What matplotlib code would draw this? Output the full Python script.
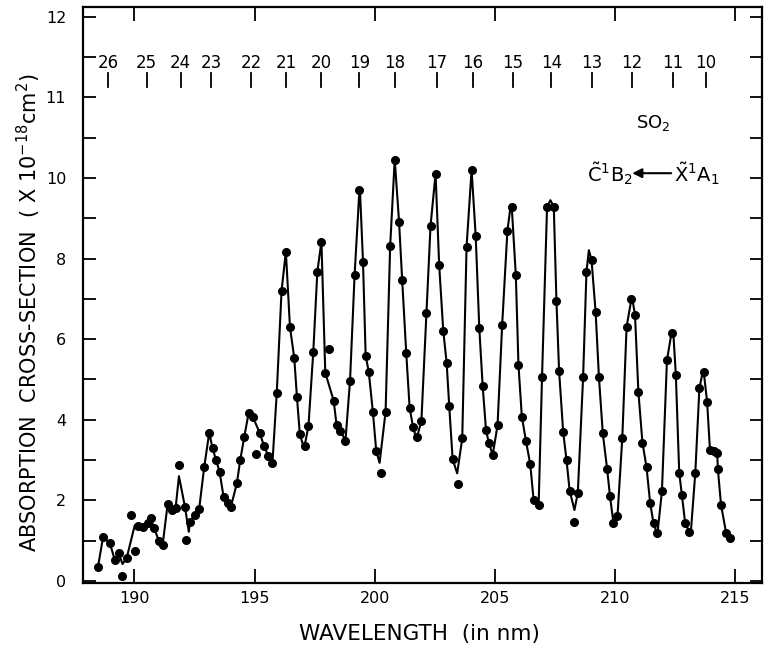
import numpy as np
import matplotlib
matplotlib.use("Agg")
import matplotlib.pyplot as plt

# measured points that lie on the drawn curve (wavelength nm, cross-section 1e-18 cm^2)
dot_wl = [188.48, 188.69, 188.97, 189.18, 189.34, 189.67, 190.15, 190.36, 190.57, 190.67,
          190.82, 191.02, 191.17, 191.38, 191.58, 191.71, 192.10, 192.31, 192.50, 192.69,
          192.90, 193.11, 193.25, 193.40, 193.54, 193.71, 193.88, 194.01, 194.26, 194.40,
          194.57, 194.75, 194.93, 195.21, 195.39, 195.57, 195.74, 195.92, 196.12, 196.30,
          196.47, 196.65, 196.76, 196.88, 197.08, 197.24, 197.44, 197.61, 197.78, 197.94,
          198.29, 198.41, 198.57, 198.78, 198.97, 199.16, 199.36, 199.51, 199.62, 199.75,
          199.92, 200.06, 200.45, 200.64, 200.83, 201.01, 201.14, 201.31, 201.45, 201.59,
          201.76, 201.94, 202.15, 202.32, 202.53, 202.68, 202.85, 202.99, 203.10, 203.24,
          203.64, 203.82, 204.03, 204.20, 204.35, 204.49, 204.63, 204.75, 204.91, 205.11,
          205.30, 205.52, 205.70, 205.87, 205.98, 206.12, 206.29, 206.47, 206.61, 206.82,
          206.96, 207.17, 207.45, 207.56, 207.67, 207.84, 207.98, 208.11, 208.45, 208.67,
          208.81, 209.02, 209.19, 209.33, 209.49, 209.67, 209.79, 209.93, 210.10, 210.30,
          210.48, 210.68, 210.83, 210.97, 211.14, 211.31, 211.46, 211.60, 211.74, 211.95,
          212.16, 212.35, 212.53, 212.67, 212.78, 212.92, 213.09, 213.34, 213.51, 213.69,
          213.83, 213.95, 214.11, 214.25, 214.28, 214.41, 214.62, 214.80]
dot_val = [0.35, 1.08, 0.95, 0.52, 0.69, 0.56, 1.36, 1.35, 1.43, 1.56,
           1.31, 0.98, 0.89, 1.91, 1.76, 1.80, 1.84, 1.47, 1.64, 1.78,
           2.82, 3.68, 3.29, 2.99, 2.71, 2.08, 1.94, 1.84, 2.42, 3.00,
           3.58, 4.17, 4.06, 3.68, 3.35, 3.10, 2.92, 4.66, 7.20, 8.17,
           6.30, 5.53, 4.57, 3.65, 3.35, 3.85, 5.68, 7.68, 8.42, 5.17,
           4.47, 3.87, 3.73, 3.48, 4.97, 7.59, 9.70, 7.92, 5.59, 5.19,
           4.20, 3.23, 4.20, 8.31, 10.46, 8.92, 7.47, 5.65, 4.30, 3.83,
           3.58, 3.97, 6.64, 8.81, 10.11, 7.84, 6.21, 5.42, 4.33, 3.02,
           3.54, 8.30, 10.20, 8.56, 6.27, 4.84, 3.74, 3.42, 3.13, 3.87,
           6.34, 8.69, 9.29, 7.59, 5.36, 4.08, 3.48, 2.90, 2.01, 1.89,
           5.05, 9.29, 9.29, 6.96, 5.22, 3.70, 3.00, 2.24, 2.19, 5.05,
           7.68, 7.97, 6.68, 5.05, 3.66, 2.78, 2.10, 1.45, 1.60, 3.54,
           6.31, 6.99, 6.60, 4.70, 3.43, 2.82, 1.94, 1.43, 1.18, 2.22,
           5.48, 6.16, 5.11, 2.69, 2.13, 1.43, 1.22, 2.69, 4.78, 5.19,
           4.45, 3.25, 3.23, 3.17, 2.77, 1.89, 1.20, 1.07]

# stray points off the curve
stray_wl = [189.49, 189.87, 190.01, 191.85, 192.14, 195.04, 198.08, 200.24, 203.48, 208.31]
stray_val = [0.12, 1.64, 0.75, 2.88, 1.02, 3.15, 5.76, 2.69, 2.40, 1.47]

# extra vertices of the drawn curve (peaks and troughs)
vert_wl = [189.50, 190.01, 191.85, 192.26, 197.05, 199.38, 200.20, 201.72, 203.43,
           205.66, 206.75, 207.31, 208.31, 208.91, 210.00, 210.72, 211.76, 212.42,
           213.15, 213.66]
vert_val = [0.42, 1.38, 2.60, 1.22, 3.30, 9.75, 2.93, 3.55, 2.67,
            9.34, 1.86, 9.45, 1.76, 8.21, 1.42, 7.00, 1.15, 6.20,
            1.18, 5.22]

# vibrational band numbers along the top
band_num = [26, 25, 24, 23, 22, 21, 20, 19, 18, 17, 16, 15, 14, 13, 12, 11, 10]
band_wl = [188.91, 190.50, 191.92, 193.18, 194.85, 196.31, 197.78, 199.36, 200.83,
           202.58, 204.09, 205.76, 207.35, 209.02, 210.69, 212.41, 213.79]

ytick_pos = [0, 2, 4, 6, 8, 10, 12, 14]
ytick_lab = ["0", "2", "4", "6", "8", "10", "11", "12"]
xtick_pos = [190, 195, 200, 205, 210, 215]

fig = plt.figure(figsize=(7.67, 6.55), dpi=100)
ax = fig.add_axes([0.108, 0.110, 0.885, 0.879])

cx = np.array(dot_wl + vert_wl)
cy = np.array(dot_val + vert_val)
order = np.argsort(cx)
ax.plot(cx[order], cy[order], color="black", lw=1.5, zorder=2)
ax.plot(dot_wl, dot_val, "o", color="black", ms=5.5, zorder=3)
ax.plot(stray_wl, stray_val, "o", color="black", ms=5.5, zorder=3)

for n, w in zip(band_num, band_wl):
    ax.text(w, 12.85, str(n), ha="center", va="center", fontsize=12)
    ax.plot([w, w], [12.25, 12.6], color="black", lw=1.3)

ax.text(211.6, 11.36, r"SO$_2$", ha="center", va="center", fontsize=13)
ax.text(208.85, 10.1, r"$\tilde{\mathrm{C}}^{1}\mathrm{B}_{2}$", ha="left", va="center", fontsize=14)
ax.annotate("", xy=(210.6, 10.12), xytext=(212.45, 10.12),
            arrowprops=dict(arrowstyle="-|>", color="black", lw=1.5, mutation_scale=14))
ax.text(212.45, 10.1, r"$\tilde{\mathrm{X}}^{1}\mathrm{A}_{1}$", ha="left", va="center", fontsize=14)

ax.set_xlim(187.85, 216.1)
ax.set_ylim(-0.05, 14.24)

ax.set_xticks(xtick_pos)
ax.set_xticklabels([str(v) for v in xtick_pos], fontsize=11.5)
ax.set_yticks(ytick_pos)
ax.set_yticklabels(ytick_lab, fontsize=11.5)
ax.set_yticks(np.arange(1, 14, 2), minor=True)
ax.tick_params(axis="both", which="both", direction="in", width=1.3)
ax.tick_params(axis="x", which="major", length=10, pad=6, top=True)
ax.tick_params(axis="y", which="both", length=9, pad=12, right=True)

for s in ax.spines.values():
    s.set_linewidth(1.6)

ax.set_xlabel("WAVELENGTH  (in nm)", fontsize=15.5)
ax.xaxis.set_label_coords(0.496, -0.071)
ax.set_ylabel(r"ABSORPTION  CROSS-SECTION  ( X 10$^{-18}$cm$^{2}$)", fontsize=15)
ax.yaxis.set_label_coords(-0.058, 0.47)

fig.savefig("out.png", dpi=100, facecolor="white")
